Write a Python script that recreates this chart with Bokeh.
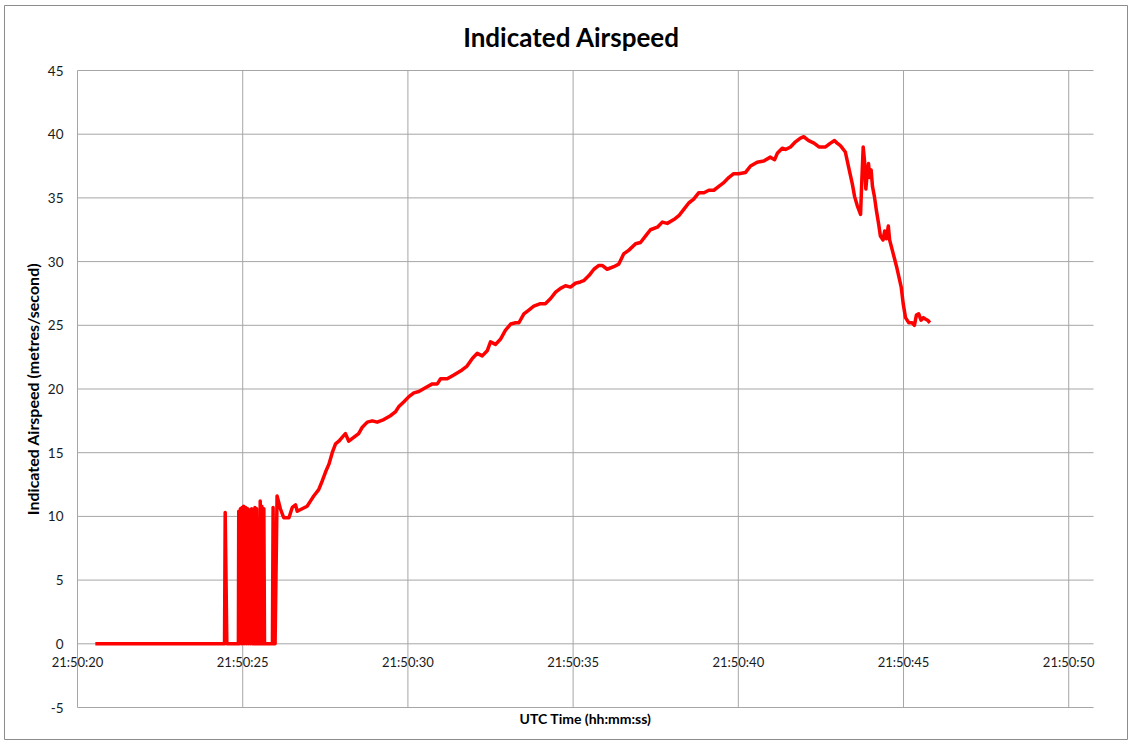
from bokeh.plotting import figure
from bokeh.models import Range1d, FixedTicker, ColumnDataSource, Label
from bokeh.embed import file_html
from bokeh.resources import INLINE

# Time in seconds after 21:50:00 UTC, indicated airspeed in m/s
seconds = [
    20.54, 24.45, 24.47, 24.52, 24.87,
    24.88, 24.90, 24.93, 24.96, 24.98, 25.01, 25.03, 25.06, 25.09, 25.12,
    25.15, 25.18, 25.21, 25.24, 25.27, 25.30, 25.35,
    25.37, 25.40, 25.42, 25.45, 25.52, 25.53, 25.56, 25.58, 25.61, 25.64, 25.66,
    25.90, 25.92, 25.95, 25.98, 26.04,
    26.14, 26.24, 26.40, 26.50, 26.60, 26.65, 26.80, 26.95, 27.05, 27.15,
    27.30, 27.41, 27.51, 27.61, 27.71, 27.81, 27.91, 28.01, 28.11, 28.21,
    28.36, 28.51, 28.62, 28.77, 28.92, 29.07, 29.27, 29.47, 29.62, 29.72,
    29.88, 30.03, 30.18, 30.33, 30.53, 30.74, 30.89, 30.99, 31.19, 31.39,
    31.64, 31.79, 31.95, 32.10, 32.25, 32.40, 32.50, 32.65, 32.80, 32.95,
    33.11, 33.26, 33.36, 33.51, 33.66, 33.81, 34.01, 34.16, 34.32, 34.47,
    34.62, 34.77, 34.92, 35.07, 35.22, 35.32, 35.48, 35.63, 35.78, 35.88,
    36.03, 36.23, 36.38, 36.53, 36.69, 36.89, 37.04, 37.19, 37.34, 37.55,
    37.70, 37.85, 38.05, 38.20, 38.35, 38.50, 38.65, 38.80, 38.96, 39.11,
    39.26, 39.41, 39.56, 39.71, 39.86, 40.01, 40.22, 40.37, 40.57, 40.77,
    40.97, 41.10, 41.18, 41.33, 41.43, 41.58, 41.73, 41.88, 41.98, 42.13,
    42.29, 42.44, 42.64, 42.79, 42.91, 42.99, 43.09, 43.24, 43.34, 43.45,
    43.52, 43.60, 43.70, 43.74, 43.78, 43.82, 43.86, 43.90, 43.94, 43.98,
    44.02, 44.06, 44.12, 44.18, 44.25, 44.30, 44.38, 44.43, 44.48, 44.54,
    44.58, 44.66, 44.73, 44.79, 44.86, 44.93, 44.99, 45.06, 45.16, 45.26,
    45.33, 45.39, 45.46, 45.53, 45.60, 45.66, 45.73, 45.80,
]
airspeed = [
    0.0, 0.0, 10.3, 0.0, 0.0,
    10.4, 0.0, 10.6, 0.0, 10.7, 0.0, 10.8, 0.0, 10.7, 0.0,
    10.6, 0.0, 10.5, 0.0, 10.6, 0.0, 0.0,
    10.7, 0.0, 10.6, 0.0, 0.0, 11.2, 0.0, 10.8, 0.0, 10.6, 0.0,
    0.0, 10.7, 0.0, 0.0, 11.6,
    10.6, 9.9, 9.9, 10.7, 10.9, 10.4, 10.6, 10.8, 11.2, 11.6,
    12.1, 12.8, 13.5, 14.1, 15.0, 15.7, 15.9, 16.2, 16.5, 15.9,
    16.2, 16.5, 17.0, 17.4, 17.5, 17.4, 17.6, 17.9, 18.2, 18.6,
    19.0, 19.4, 19.7, 19.8, 20.1, 20.4, 20.4, 20.8, 20.8, 21.1,
    21.5, 21.8, 22.4, 22.8, 22.6, 23.0, 23.7, 23.5, 23.9, 24.6,
    25.1, 25.2, 25.2, 25.9, 26.2, 26.5, 26.7, 26.7, 27.1, 27.6,
    27.9, 28.1, 28.0, 28.3, 28.4, 28.5, 28.9, 29.4, 29.7, 29.7,
    29.4, 29.6, 29.8, 30.6, 30.9, 31.4, 31.5, 32.0, 32.5, 32.7,
    33.1, 33.0, 33.3, 33.6, 34.1, 34.6, 34.9, 35.4, 35.4, 35.6,
    35.6, 35.9, 36.2, 36.6, 36.9, 36.9, 37.0, 37.5, 37.8, 37.9,
    38.2, 38.0, 38.5, 38.9, 38.8, 39.0, 39.4, 39.7, 39.8, 39.5,
    39.3, 39.0, 39.0, 39.3, 39.5, 39.3, 39.1, 38.6, 37.4, 36.1,
    35.1, 34.4, 33.7, 36.5, 39.0, 37.9, 35.7, 36.9, 37.7, 36.6,
    37.2, 35.9, 35.1, 34.0, 32.9, 32.0, 31.7, 32.4, 31.8, 32.8,
    31.7, 30.9, 30.2, 29.6, 28.8, 28.0, 26.7, 25.6, 25.2, 25.2,
    25.0, 25.8, 25.9, 25.4, 25.6, 25.5, 25.4, 25.2,
]

x_ticks = [20, 25, 30, 35, 40, 45, 50]
x_tick_labels = ["21:50:20", "21:50:25", "21:50:30", "21:50:35", "21:50:40", "21:50:45", "21:50:50"]
y_ticks = [-5, 0, 5, 10, 15, 20, 25, 30, 35, 40, 45]
y_tick_labels = ["-5", "0", "5", "10", "15", "20", "25", "30", "35", "40", "45"]
x_axis_min, x_axis_max = 20, 50.75
y_axis_min, y_axis_max = -5, 45

# ---- layout (page pixels) ----
FIG_L, FIG_T, FIG_R, FIG_B = 4, 5, 1128, 740        # chart box
AX_L, AX_T, AX_R, AX_B = 77, 70, 1093, 707          # plot area
sx = (AX_R - AX_L) / (x_axis_max - x_axis_min)
sy = (AX_B - AX_T) / (y_axis_max - y_axis_min)
x_start = x_axis_min - (AX_L - FIG_L) / sx
x_end = x_axis_max + (FIG_R - AX_R) / sx
y_start = y_axis_min - (FIG_B - AX_B) / sy
y_end = y_axis_max + (AX_T - FIG_T) / sy

def px_x(px):
    return x_axis_min + (px - AX_L) / sx

def px_y(py):
    return y_axis_max - (py - AX_T) / sy

FONT = "Lato"
GRID = "#a6a6a6"
TXT = "#1a1a1a"

p = figure(
    frame_width=FIG_R - FIG_L, frame_height=FIG_B - FIG_T,
    min_border_left=0, min_border_right=0, min_border_top=0, min_border_bottom=0,
    x_range=Range1d(x_start, x_end), y_range=Range1d(y_start, y_end),
    output_backend="svg", toolbar_location=None, title=None,
)
p.styles = {"margin-left": f"{FIG_L}px", "margin-top": f"{FIG_T}px"}
p.outline_line_color = "#8c8c8c"
p.outline_line_width = 1
p.background_fill_color = "white"
p.border_fill_color = "white"
p.xgrid.visible = False
p.ygrid.visible = False

# gridlines limited to the plot area
p.segment(x0=[x_axis_min] * len(y_ticks), x1=[x_axis_max] * len(y_ticks), y0=y_ticks, y1=y_ticks,
          line_color=GRID, line_width=1)
p.segment(x0=x_ticks, x1=x_ticks, y0=[y_axis_min] * len(x_ticks), y1=[y_axis_max] * len(x_ticks),
          line_color=GRID, line_width=1)

src = ColumnDataSource(data=dict(t=seconds, v=airspeed))
p.line("t", "v", source=src, line_color="#ff0000", line_width=3.5, line_join="round")

# horizontal axis crosses at 0
xa = p.xaxis[0]
xa.fixed_location = 0
xa.bounds = (x_axis_min, x_axis_max)
xa.ticker = FixedTicker(ticks=x_ticks)
xa.major_label_overrides = {t: s for t, s in zip(x_ticks, x_tick_labels)}
xa.axis_line_color = None
xa.minor_tick_line_color = None
xa.major_tick_line_color = None
xa.major_tick_out = 0
xa.major_tick_in = 0
xa.major_label_standoff = 10
xa.major_label_text_font = FONT
xa.major_label_text_font_size = "13px"
xa.major_label_text_color = TXT

ya = p.yaxis[0]
ya.fixed_location = x_axis_min
ya.bounds = (y_axis_min, y_axis_max)
ya.ticker = FixedTicker(ticks=y_ticks)
ya.major_label_overrides = {t: s for t, s in zip(y_ticks, y_tick_labels)}
ya.axis_line_color = None
ya.minor_tick_line_color = None
ya.major_tick_line_color = None
ya.major_tick_out = 0
ya.major_tick_in = 0
ya.major_label_standoff = 14
ya.major_label_text_font = FONT
ya.major_label_text_font_size = "13.5px"
ya.major_label_text_color = TXT
ya.axis_label = "Indicated Airspeed (metres/second)"
ya.axis_label_text_font = FONT
ya.axis_label_text_font_size = "16px"
ya.axis_label_text_font_style = "bold"
ya.axis_label_text_color = "#000000"
ya.axis_label_standoff = 3

p.add_layout(Label(x=px_x(571), y=px_y(36), text="Indicated Airspeed", text_align="center",
                   text_baseline="middle", text_font=FONT, text_font_size="26px",
                   text_font_style="bold", text_color="#000000"))
p.add_layout(Label(x=px_x(585), y=px_y(718), text="UTC Time (hh:mm:ss)", text_align="center",
                   text_baseline="middle", text_font=FONT, text_font_size="14px",
                   text_font_style="bold", text_color="#000000"))

open("out.html", "w").write(file_html(p, INLINE))
